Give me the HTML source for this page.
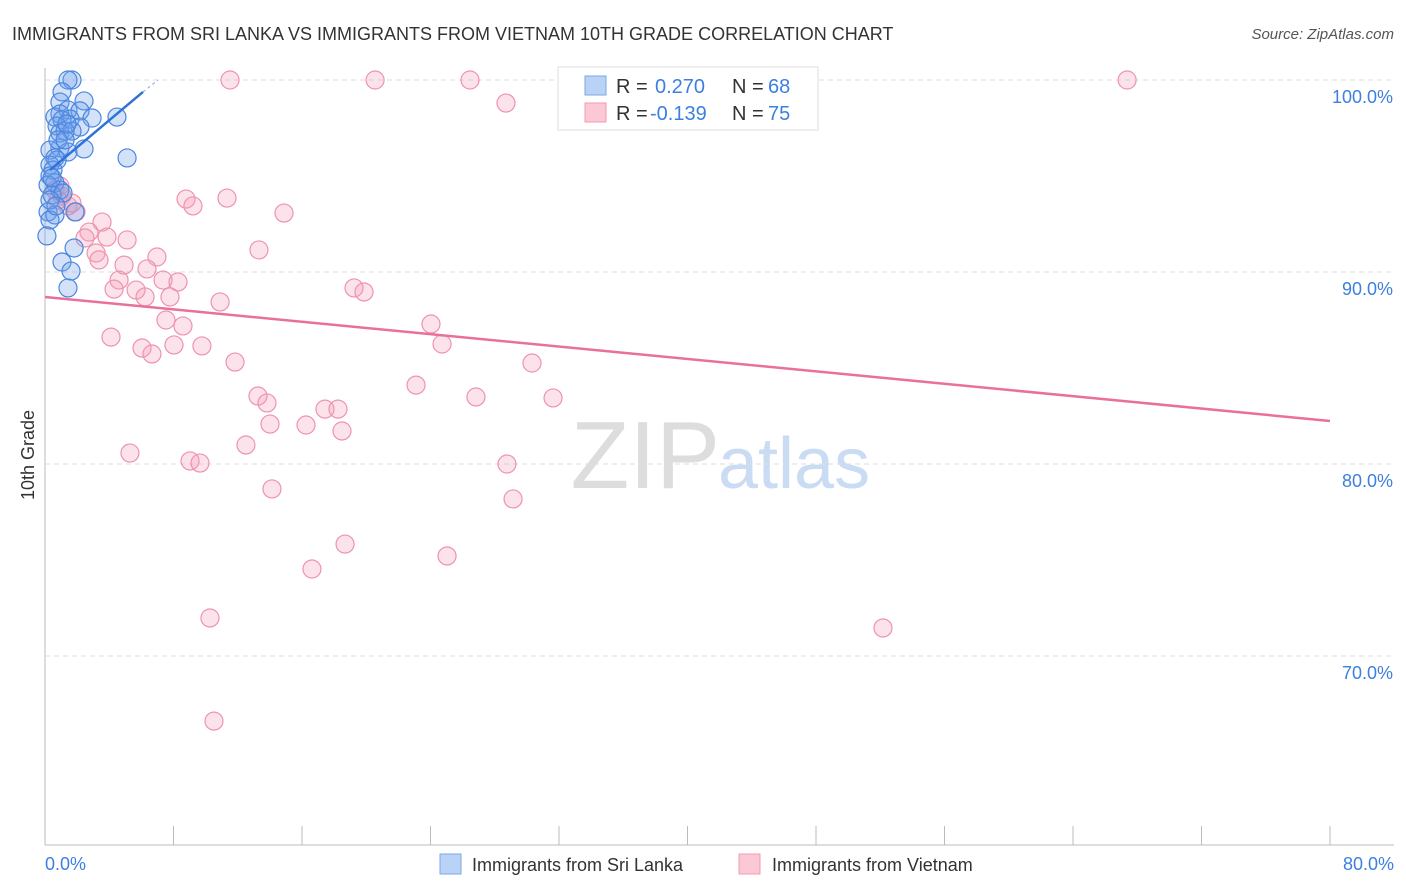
<!DOCTYPE html>
<html><head><meta charset="utf-8"><style>
body{margin:0;background:#fff;font-family:"Liberation Sans",sans-serif;}
#wrap{position:relative;width:1406px;height:892px;overflow:hidden;}
svg text{font-family:"Liberation Sans",sans-serif;}
</style></head><body>
<div id="wrap">
<svg id="chart" width="1406" height="892">
<text x="12" y="40" font-size="18" fill="#333">IMMIGRANTS FROM SRI LANKA VS IMMIGRANTS FROM VIETNAM 10TH GRADE CORRELATION CHART</text>
<text x="1394" y="39" font-size="15" fill="#555" font-style="italic" text-anchor="end">Source: ZipAtlas.com</text>
<text x="720" y="488" font-size="96" fill="#ddd" font-family="Liberation Serif" text-anchor="end">ZIP</text>
<text x="718" y="488" font-size="72" fill="#c9dcf3">atlas</text>
<g id="grid"></g><g id="axes"></g><g id="pink"></g><g id="blue"></g><g id="lines"></g>
<text x="34" y="455" font-size="18" fill="#333" transform="rotate(-90 34 455)" text-anchor="middle">10th Grade</text>
<text x="45" y="870" font-size="18" fill="#3d7fe0">0.0%</text>
<text x="1394" y="870" font-size="18" fill="#3d7fe0" text-anchor="end">80.0%</text>
<g>
<rect x="558" y="67" width="260" height="63" fill="#fff" stroke="#ddd"/>
<rect x="585" y="76" width="21" height="19" fill="#b9d3f6" stroke="#7aa7e8"/>
<text x="616" y="93" font-size="20" fill="#333">R = </text><text x="655" y="93" font-size="20" fill="#3d7fe0">0.270</text>
<text x="732" y="93" font-size="20" fill="#333">N = </text><text x="768" y="93" font-size="20" fill="#3d7fe0">68</text>
<rect x="585" y="103" width="21" height="19" fill="#fbc8d6" stroke="#f09ab3"/>
<text x="616" y="120" font-size="20" fill="#333">R = </text><text x="650" y="120" font-size="20" fill="#3d7fe0">-0.139</text>
<text x="732" y="120" font-size="20" fill="#333">N = </text><text x="768" y="120" font-size="20" fill="#3d7fe0">75</text>
</g>
<g><rect x="440" y="854" width="21" height="20" fill="#b9d3f6" stroke="#7aa7e8"/><text x="472" y="871" font-size="18" fill="#333">Immigrants from Sri Lanka</text></g>
<g><rect x="739" y="854" width="21" height="20" fill="#fbc8d6" stroke="#f09ab3"/><text x="772" y="871" font-size="18" fill="#333">Immigrants from Vietnam</text></g>
</svg></div>
<script>
const yTicks=[100,90,80,70];
const xTicks=[0,8,16,24,32,40,48,56,64,72,80];
const blueX=[1.68,1.43,1.06,2.43,0.93,1.43,2.18,0.93,0.62,4.48,2.93,1.56,1.06,2.18,0.75,1.25,0.93,1.68,2.43,0.93,1.43,0.31,0.62,5.11,0.75,0.31,0.50,0.31,0.62,0.19,0.93,0.44,1.12,0.19,0.62,0.31,1.87,0.12,1.81,1.06,1.62,1.43,0.81,1.25,0.31,0.68,0.44,1.37];
const blueY=[100,100,99.38,98.91,98.85,98.44,98.39,98.23,98.07,98.07,98.02,97.97,97.92,97.55,97.60,97.34,97.24,97.34,96.41,96.46,96.25,96.35,95.94,95.94,95.83,95.57,95.31,95.00,94.64,94.53,94.27,94.01,94.11,93.13,92.97,92.71,93.13,91.88,91.25,90.52,90.05,89.17,96.88,96.88,93.75,93.44,94.90,97.71];
const pinkX=[11.52,20.55,26.46,67.37,43.15,28.70,8.78,11.33,9.21,14.88,1.93,0.62,1.06,1.43,3.55,2.74,3.86,2.49,5.11,13.32,3.18,6.97,3.36,4.92,6.35,4.61,7.35,8.28,4.30,5.67,6.23,7.78,10.90,19.24,19.86,7.53,8.59,24.03,4.11,24.72,6.04,8.03,9.77,6.66,11.83,30.32,23.10,13.26,26.83,31.63,13.82,17.43,18.24,14.01,16.25,18.49,12.51,5.29,9.03,9.65,28.76,14.13,29.14,18.68,25.03,16.62,10.27,52.17,10.52,0.93,1.68,0.81];
const pinkY=[100,100,100,100,100,98.80,93.80,93.85,93.44,93.07,93.13,94.27,93.96,93.44,92.60,92.08,91.82,91.77,91.67,91.15,90.99,90.78,90.63,90.36,90.16,89.58,89.58,89.48,89.11,89.06,88.70,88.70,88.44,89.17,88.96,87.50,87.19,87.29,86.61,86.25,86.04,86.20,86.15,85.73,85.31,85.26,84.11,83.54,83.49,83.44,83.18,82.86,82.86,82.08,82.03,81.72,80.99,80.57,80.16,80.05,80.00,78.70,78.18,75.83,75.21,74.53,71.98,71.46,66.61,94.48,93.59,93.75];
const pinkTrendX=[0,80], pinkTrendY=[88.70,82.24];
const blueTrendX=[0.31,6.10], blueTrendY=[95.31,99.38];
const blueDashX=[6.10,7.04], blueDashY=[99.38,100];
const NS='http://www.w3.org/2000/svg';
const X=v=>45+v*1285/80, Y=v=>80+(100-v)*19.2;
function mk(p,t,a){const e=document.createElementNS(NS,t);for(const k in a)e.setAttribute(k,a[k]);document.getElementById(p).appendChild(e);return e;}
yTicks.forEach(t=>{
 const l=mk('grid','line',{x1:45,x2:1394,y1:Y(t),y2:Y(t),stroke:'#ddd','stroke-dasharray':'5,4'});
 
 
 const tx=mk('grid','text',{x:1393,y:Y(t)+23,'font-size':18,fill:'#3d7fe0','text-anchor':'end'});tx.textContent=t.toFixed(1)+'%';
 
 
});
const ax=mk('axes','line',{x1:45,x2:45,y1:68,y2:845,stroke:'#bbb'});


const bx=mk('axes','line',{x1:45,x2:1394,y1:845,y2:845,stroke:'#bbb'});


xTicks.forEach(t=>{const l=mk('axes','line',{x1:X(t),x2:X(t),y1:826,y2:845,stroke:'#bbb'});
 
 });
pinkX.forEach((v,i)=>{const c=mk('pink','circle',{cx:X(v),cy:Y(pinkY[i]),r:9,fill:'rgba(245,160,185,0.3)',stroke:'#ee93ae','stroke-width':1.2});
 
 });
blueX.forEach((v,i)=>{const c=mk('blue','circle',{cx:X(v),cy:Y(blueY[i]),r:9,fill:'rgba(110,160,235,0.3)',stroke:'#4a86e0','stroke-width':1.2});
 
 });
const pl=mk('lines','line',{x1:X(pinkTrendX[0]),y1:Y(pinkTrendY[0]),x2:X(pinkTrendX[1]),y2:Y(pinkTrendY[1]),stroke:'#e8709a','stroke-width':2.5});


const bl=mk('lines','line',{x1:X(blueTrendX[0]),y1:Y(blueTrendY[0]),x2:X(blueTrendX[1]),y2:Y(blueTrendY[1]),stroke:'#2f72d8','stroke-width':2.5});


const bd=mk('lines','line',{x1:X(blueDashX[0]),y1:Y(blueDashY[0]),x2:X(blueDashX[1]),y2:Y(blueDashY[1]),stroke:'#8fb3ea','stroke-width':1.2,'stroke-dasharray':'3,3'});


</script>
</body></html>
